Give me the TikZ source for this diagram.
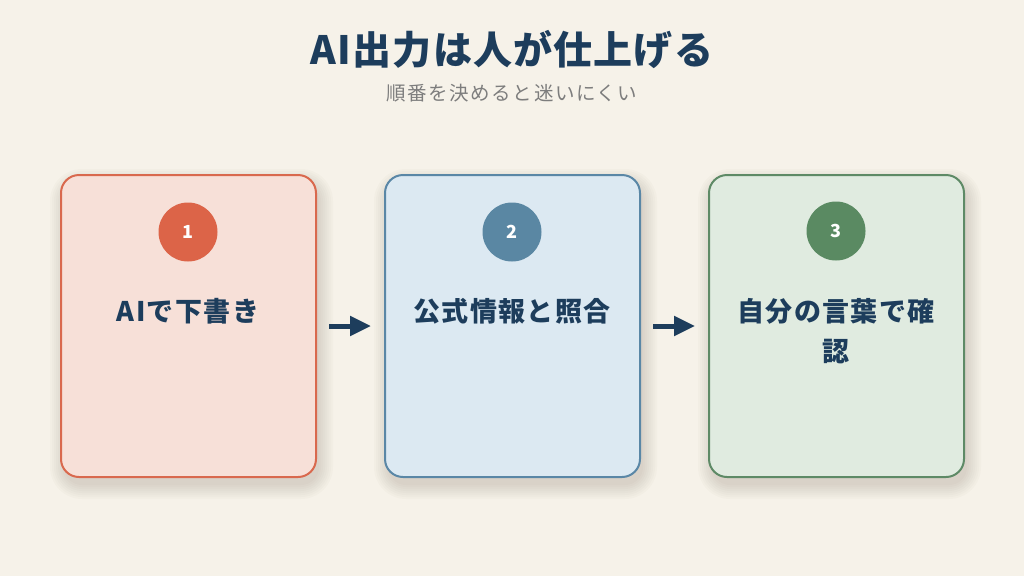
\documentclass[tikz,border=0pt]{standalone}
\usepackage{fontspec}
\setmainfont{Noto Sans CJK JP}
\newfontfamily\jp{Noto Sans CJK JP}[LetterSpace=5]
\newfontfamily\jps{Noto Sans CJK JP}[LetterSpace=8]
\newfontfamily\jpt{Noto Sans CJK JP}[LetterSpace=3]
\usetikzlibrary{arrows.meta}
\definecolor{bg}{HTML}{F6F2E9}
\definecolor{navy}{HTML}{1D3D5C}
\definecolor{sub}{HTML}{7D7D7D}
\definecolor{fillA}{HTML}{F7E0D8}
\definecolor{lineA}{HTML}{D9694E}
\definecolor{dotA}{HTML}{DC6448}
\definecolor{fillB}{HTML}{DCE9F2}
\definecolor{lineB}{HTML}{5A87A6}
\definecolor{dotB}{HTML}{5A87A3}
\definecolor{fillC}{HTML}{E0EBE0}
\definecolor{lineC}{HTML}{5E8A66}
\definecolor{dotC}{HTML}{5A8A62}
\tikzset{
  card/.style={draw, line width=2pt, rounded corners=18pt, minimum width=255pt, minimum height=302pt, inner sep=0pt},
  badge/.style={circle, minimum size=59pt, inner sep=0pt, text=white, font=\jp\bfseries\fontsize{18}{20}\selectfont},
  cardtext/.style={text=navy, font=\jp\bfseries\fontsize{27}{40}\selectfont, align=center, text width=235pt},
  flow/.style={draw=navy, line width=5pt, -{Triangle[length=21pt,width=19pt]}},
  softshadow/.style={fill=black!60!brown, opacity=0.018}
}
\begin{document}
\begin{tikzpicture}[x=1pt,y=-1pt]
\fill[bg] (0,0) rectangle (1024,576);
\useasboundingbox (0,0) rectangle (1024,576);
\node[text=navy, font=\jpt\bfseries\fontsize{39}{44}\selectfont] (title) at (512,50) {AI出力は人が仕上げる};
\node[text=sub, font=\jps\fontsize{19.5}{22}\selectfont] (subtitle) at (512,93) {順番を決めると迷いにくい};

% soft shadows
\foreach \cx in {188.5,512.5,836.5}{
  \foreach \i in {0,2,...,14}{
    \fill[softshadow, rounded corners=18pt+\i pt]
      (\cx-127.5-\i+3, 175-\i+8) rectangle (\cx+127.5+\i+3, 477+\i+8);
  }
}

\node[card, draw=lineA, fill=fillA] (c1) at (188.5,326) {};
\node[card, draw=lineB, fill=fillB] (c2) at (512.5,326) {};
\node[card, draw=lineC, fill=fillC] (c3) at (836.5,326) {};

\node[badge, fill=dotA] (b1) at (188,232) {1};
\node[badge, fill=dotB] (b2) at (512,232) {2};
\node[badge, fill=dotC] (b3) at (836,231) {3};

\node[cardtext, anchor=north] (t1) at (188,295) {AIで下書き};
\node[cardtext, anchor=north] (t2) at (512,295) {公式情報と照合};
\node[cardtext, anchor=north] (t3) at (836,295) {自分の言葉で確\\認};

\coordinate (a1s) at (329,326);
\coordinate (a1e) at (371,326);
\coordinate (a2s) at (653,326);
\coordinate (a2e) at (695,326);
\draw[flow] (a1s) -- (a1e);
\draw[flow] (a2s) -- (a2e);
\end{tikzpicture}
\end{document}
